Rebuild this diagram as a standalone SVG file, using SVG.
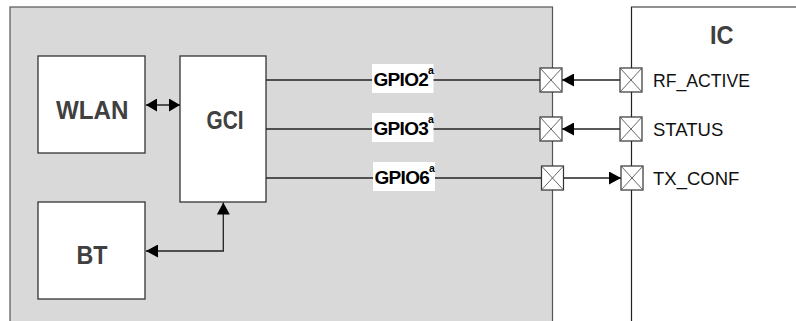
<svg xmlns="http://www.w3.org/2000/svg" width="796" height="321" viewBox="0 0 796 321">
<style>
.blk{fill:#fff;stroke:#333;stroke-width:1.3}
.big{font-family:"Liberation Sans",Arial,sans-serif;font-weight:bold;font-size:25px;fill:#404040}
.gp{font-family:"Liberation Sans",Arial,sans-serif;font-weight:bold;font-size:19px;fill:#000;letter-spacing:-0.7px}
.sup{font-size:10.5px;letter-spacing:0}
.pin{font-family:"Liberation Sans",Arial,sans-serif;font-size:18.5px;fill:#111}
.wire{fill:none;stroke:#222;stroke-width:1.3}
.pad{fill:#fff;stroke:#333;stroke-width:1.2}
.padx{stroke:#555;stroke-width:0.9}
.lbg{fill:#fff}
</style>
<defs>
<marker id="ah" markerUnits="userSpaceOnUse" markerWidth="12" markerHeight="13" refX="12" refY="6.5" orient="auto-start-reverse">
<path d="M0,0 L12,6.5 L0,13 z" fill="#000"/>
</marker>
<marker id="ahs" markerUnits="userSpaceOnUse" markerWidth="11" markerHeight="13" refX="11" refY="6.5" orient="auto-start-reverse">
<path d="M0,0 L11,6.5 L0,13 z" fill="#000"/>
</marker>
<g id="padsym">
<rect class="pad" x="0" y="0" width="22" height="24"/>
<line class="padx" x1="0" y1="0" x2="22" y2="24"/>
<line class="padx" x1="22" y1="0" x2="0" y2="24"/>
</g>
</defs>
<g id="chip">
<rect x="10" y="7" width="542.5" height="330" fill="#d9d9d9" stroke="#555" stroke-width="1.2"/>
</g>
<g id="ic">
<path d="M796,7 H631.5 V321" fill="none" stroke="#222" stroke-width="1.2"/>
<text class="big" x="710" y="44" textLength="23.5" lengthAdjust="spacingAndGlyphs">IC</text>
</g>
<g id="wlan">
<rect class="blk" x="38" y="56" width="107" height="97"/>
<text class="big" x="56" y="119" textLength="72.5" lengthAdjust="spacingAndGlyphs">WLAN</text>
</g>
<g id="gci">
<rect class="blk" x="180" y="56" width="86" height="146"/>
<text class="big" x="206.5" y="129" textLength="37" lengthAdjust="spacingAndGlyphs">GCI</text>
</g>
<g id="bt">
<rect class="blk" x="38" y="202" width="107" height="97"/>
<text class="big" x="76.5" y="264" textLength="31" lengthAdjust="spacingAndGlyphs">BT</text>
</g>
<g id="connectors">
<line class="wire" x1="146" y1="105" x2="180" y2="105" marker-start="url(#ahs)" marker-end="url(#ahs)"/>
<path class="wire" d="M146,251 H223.3 V202.5" marker-start="url(#ah)" marker-end="url(#ah)"/>
<line class="wire" x1="266" y1="80" x2="540" y2="80"/>
<line class="wire" x1="266" y1="129" x2="540" y2="129"/>
<line class="wire" x1="266" y1="178" x2="541.5" y2="178"/>
<line class="wire" x1="620" y1="80" x2="562" y2="80" marker-end="url(#ah)"/>
<line class="wire" x1="620" y1="129" x2="562" y2="129" marker-end="url(#ah)"/>
<line class="wire" x1="563.5" y1="178" x2="621" y2="178" marker-end="url(#ah)"/>
</g>
<g id="gpio2">
<rect class="lbg" x="372" y="64" width="61.5" height="29"/>
<text class="gp" x="373.5" y="86">GPIO2<tspan class="sup" dy="-12">a</tspan></text>
</g>
<g id="gpio3">
<rect class="lbg" x="372" y="113" width="61.5" height="29"/>
<text class="gp" x="373.5" y="135">GPIO3<tspan class="sup" dy="-12">a</tspan></text>
</g>
<g id="gpio6">
<rect class="lbg" x="373" y="162" width="62" height="29"/>
<text class="gp" x="374.5" y="184">GPIO6<tspan class="sup" dy="-12">a</tspan></text>
</g>
<g id="pad-gpio2"><use href="#padsym" x="540" y="68"/></g>
<g id="pad-gpio3"><use href="#padsym" x="540" y="117"/></g>
<g id="pad-gpio6"><use href="#padsym" x="541.5" y="166"/></g>
<g id="pad-rf"><use href="#padsym" x="620" y="68"/></g>
<g id="pad-status"><use href="#padsym" x="620" y="117"/></g>
<g id="pad-txconf"><use href="#padsym" x="621" y="166"/></g>
<g id="pinlabels">
<text class="pin" x="653" y="86.5" textLength="97" lengthAdjust="spacingAndGlyphs">RF_ACTIVE</text>
<text class="pin" x="653" y="135.5">STATUS</text>
<text class="pin" x="653" y="184.5">TX_CONF</text>
</g>
</svg>
